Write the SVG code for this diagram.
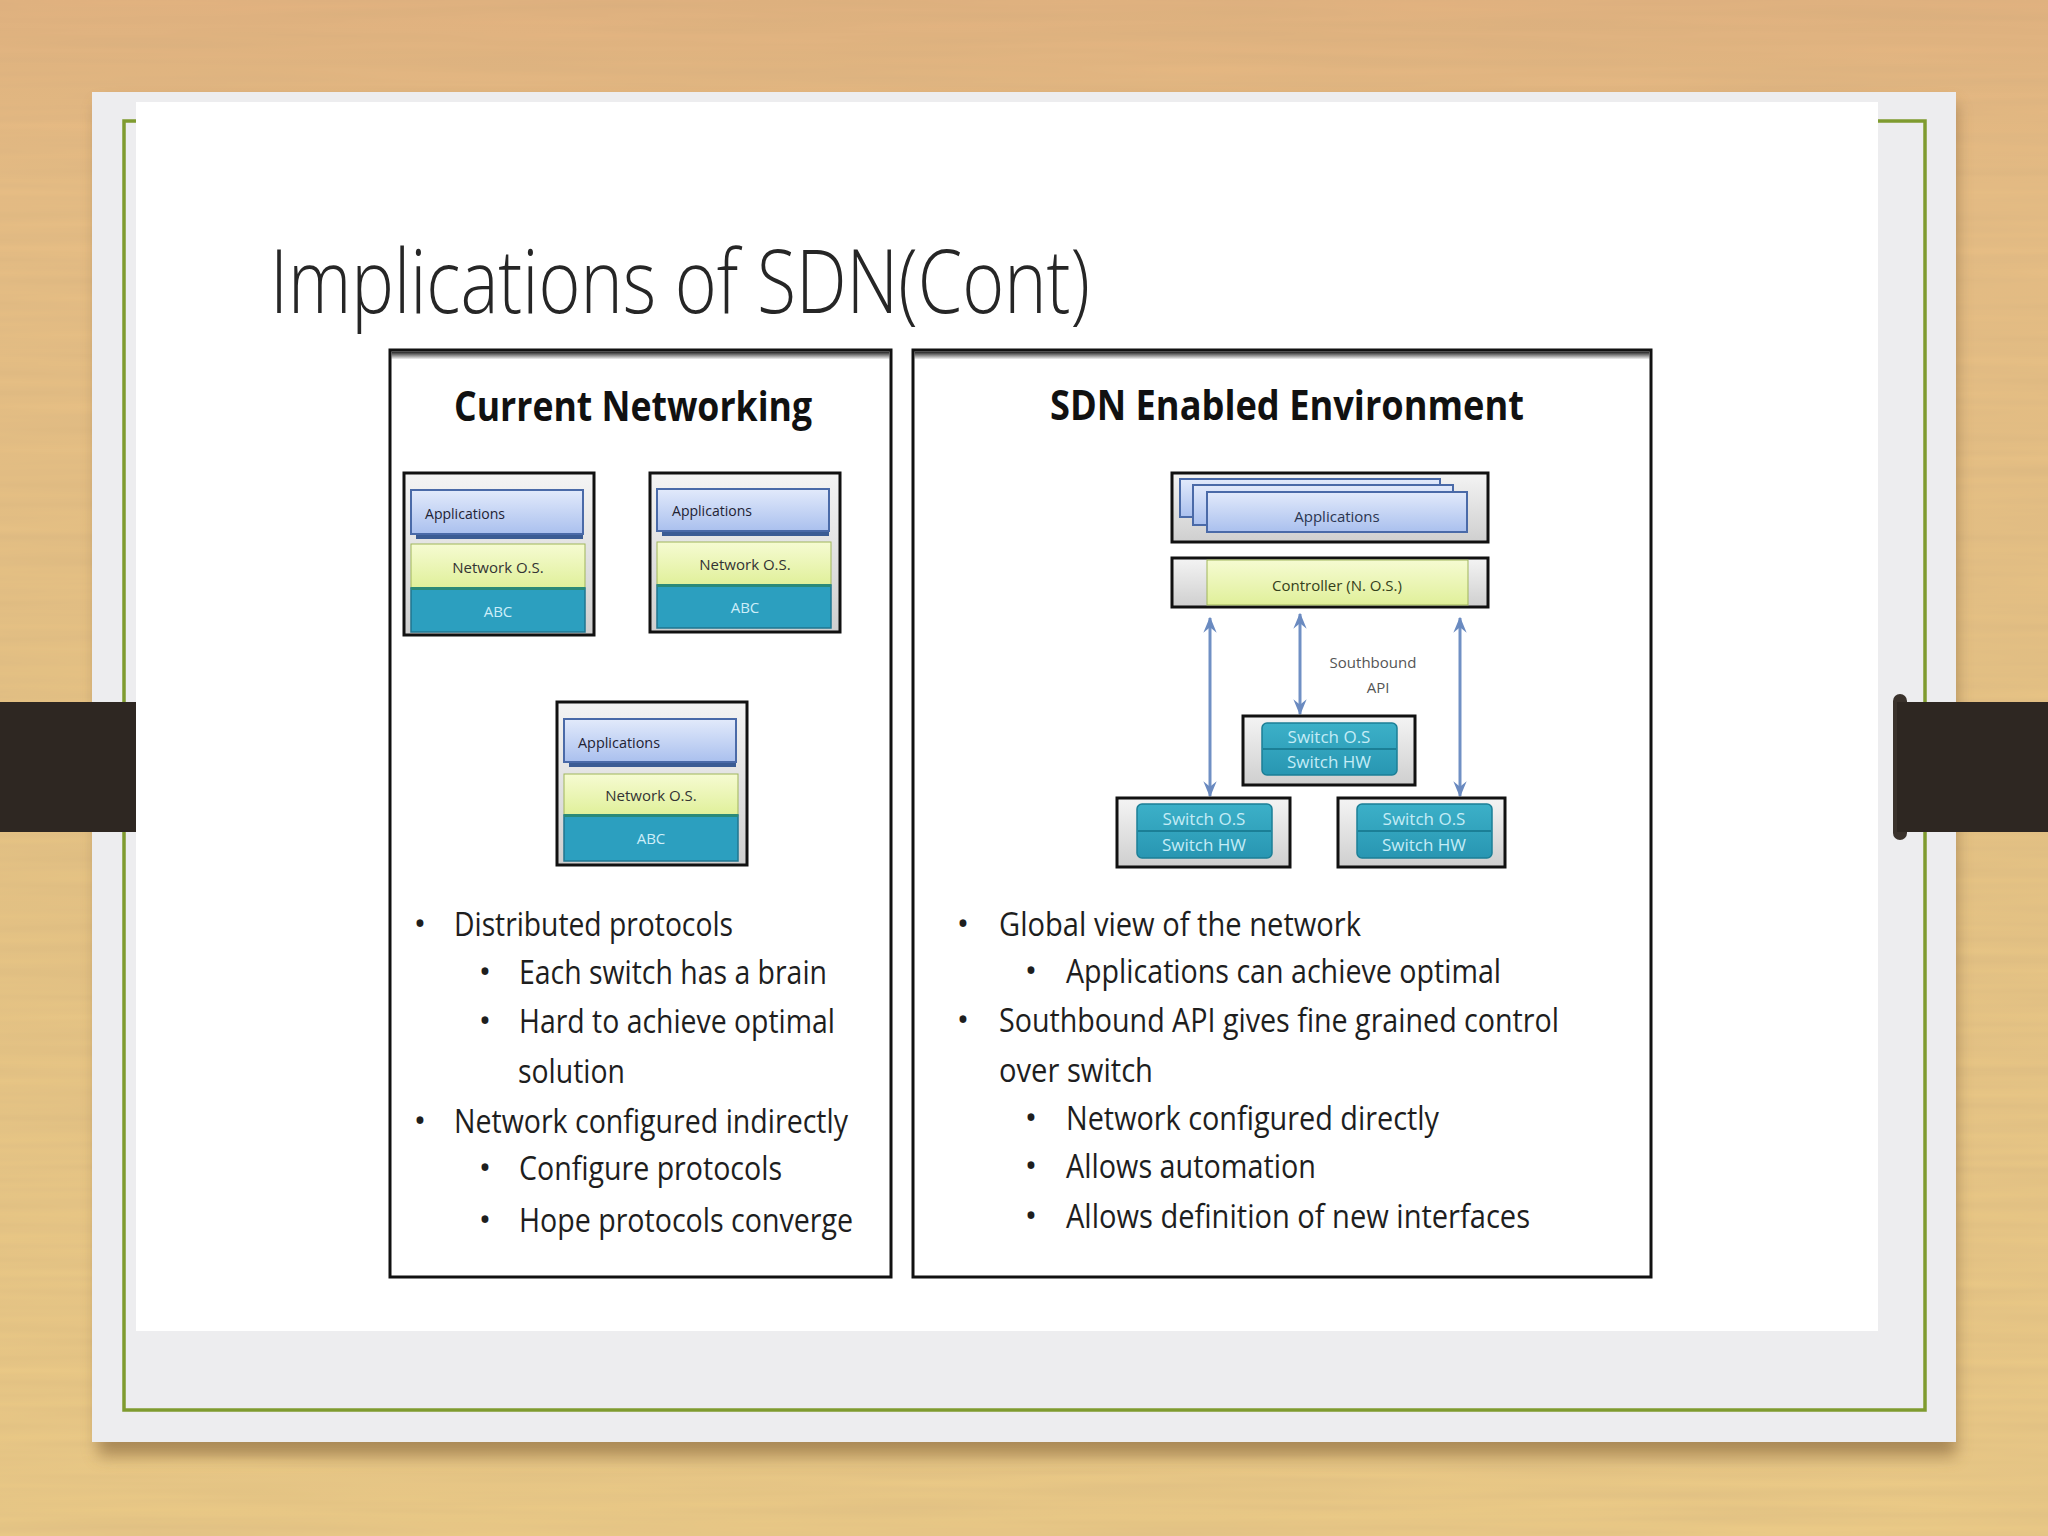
<svg xmlns="http://www.w3.org/2000/svg" width="2048" height="1536" viewBox="0 0 2048 1536">
<defs>
<style>
.body{font-family:"Open Sans","Liberation Sans",sans-serif;fill:#1e1e1e;font-size:33px}
.head{font-family:"Open Sans","Liberation Sans",sans-serif;font-weight:bold;fill:#111;font-size:42px}
.small{font-family:"Open Sans","Liberation Sans",sans-serif;font-size:15px}
.box{stroke:#111;stroke-width:3}
.apps{fill:url(#gApps);stroke:#4a6aa8;stroke-width:2}
.nos{fill:url(#gNos);stroke:#9fb55a;stroke-width:1}
.abc{fill:#2c9fbf;stroke:#1f7690;stroke-width:1.5}
.sw{fill:url(#gSw);stroke:#1b7f96;stroke-width:1.5}
.swt{fill:#c4ecf6;font-family:"Open Sans","Liberation Sans",sans-serif;font-size:17px;text-anchor:middle}
.conn{stroke:#7090c4;stroke-width:3;fill:none;marker-start:url(#ah);marker-end:url(#ah)}
</style>
<linearGradient id="gBg" x1="0" y1="0" x2="0" y2="1">
<stop offset="0" stop-color="#e2b27f"/>
<stop offset="0.12" stop-color="#e7bd84"/>
<stop offset="0.5" stop-color="#e6c384"/>
<stop offset="1" stop-color="#ebca86"/>
</linearGradient>
<linearGradient id="gGray" x1="0" y1="0" x2="0" y2="1">
<stop offset="0" stop-color="#f4f4f4"/>
<stop offset="1" stop-color="#cfcfcf"/>
</linearGradient>
<linearGradient id="gApps" x1="0" y1="0" x2="0" y2="1">
<stop offset="0" stop-color="#e2eafb"/>
<stop offset="1" stop-color="#aac0ee"/>
</linearGradient>
<linearGradient id="gNos" x1="0" y1="0" x2="0" y2="1">
<stop offset="0" stop-color="#f6fbd2"/>
<stop offset="1" stop-color="#e0f09a"/>
</linearGradient>
<linearGradient id="gSw" x1="0" y1="0" x2="0" y2="1">
<stop offset="0" stop-color="#3cb0c8"/>
<stop offset="1" stop-color="#2896b2"/>
</linearGradient>
<linearGradient id="gTop" x1="0" y1="0" x2="0" y2="1">
<stop offset="0" stop-color="#1a1a1a"/>
<stop offset="1" stop-color="#1a1a1a" stop-opacity="0"/>
</linearGradient>
<filter id="blur" x="-5%" y="-5%" width="110%" height="115%"><feGaussianBlur stdDeviation="8"/></filter>
<filter id="grain" x="0" y="0" width="100%" height="100%">
<feTurbulence type="fractalNoise" baseFrequency="0.003 0.09" numOctaves="2" seed="4"/>
<feColorMatrix type="matrix" values="0 0 0 0 0.55  0 0 0 0 0.38  0 0 0 0 0.2  0 0 0 0.35 -0.05"/>
</filter>
<marker id="ah" viewBox="0 0 12 12" refX="11" refY="6" markerWidth="16" markerHeight="16" markerUnits="userSpaceOnUse" orient="auto-start-reverse">
<path d="M0,1 L12,6 L0,11 L4,6 z" fill="#6a8ac0"/>
</marker>
</defs>

<g id="background">
<rect x="0" y="0" width="2048" height="1536" fill="url(#gBg)"/>
<rect x="0" y="0" width="2048" height="1536" filter="url(#grain)"/>
</g>

<g id="card">
<rect x="98" y="104" width="1858" height="1352" fill="#7a5a30" opacity="0.55" filter="url(#blur)"/>
<rect x="92" y="92" width="1864" height="1350" fill="#ededef"/>
<rect x="124" y="121" width="1801" height="1289" fill="none" stroke="#7f9b2f" stroke-width="3.5"/>
<rect x="136" y="102" width="1742" height="1229" fill="#ffffff"/>
</g>

<g id="bands">
<rect x="0" y="702" width="136" height="130" fill="#2e2722"/>
<rect x="1893" y="694" width="14" height="146" rx="7" fill="#3a322c"/>
<rect x="1897" y="702" width="151" height="130" fill="#2e2722"/>
</g>

<g id="title">
<text x="270" y="313" font-family="'Open Sans','Liberation Sans',sans-serif" font-weight="300" font-size="88" fill="#262626" textLength="820" lengthAdjust="spacingAndGlyphs">Implications of SDN(Cont)</text>
</g>

<g id="panel-current">
<rect x="390" y="350" width="501" height="927" fill="#ffffff" class="box"/>
<rect x="391.5" y="351.5" width="498" height="8" fill="url(#gTop)"/>
<text class="head" x="454" y="421" textLength="358" lengthAdjust="spacingAndGlyphs">Current Networking</text>
</g>

<g id="panel-sdn">
<rect x="913" y="350" width="738" height="927" fill="#ffffff" class="box"/>
<rect x="914.5" y="351.5" width="735" height="8" fill="url(#gTop)"/>
<text class="head" x="1050" y="420" textLength="474" lengthAdjust="spacingAndGlyphs">SDN Enabled Environment</text>
</g>

<g id="cn-stack-1">
<rect x="404" y="473" width="190" height="162" fill="url(#gGray)" class="box"/>
<rect x="416" y="533" width="167" height="6" fill="#3b5c94"/>
<rect x="411" y="490" width="172" height="44" class="apps"/>
<rect x="411" y="544" width="174" height="44" class="nos"/>
<rect x="411" y="588" width="174" height="44" class="abc"/>
<rect x="411" y="587" width="174" height="3" fill="#2b8a78"/>
<text class="small" x="425" y="519" fill="#223" font-size="16" textLength="80" lengthAdjust="spacingAndGlyphs">Applications</text>
<text class="small" x="498" y="573" fill="#333" text-anchor="middle" font-size="15">Network O.S.</text>
<text class="small" x="498" y="617" fill="#cdeef9" text-anchor="middle" font-size="15">ABC</text>
</g>

<g id="cn-stack-2">
<rect x="650" y="473" width="190" height="159" fill="url(#gGray)" class="box"/>
<rect x="662" y="530" width="167" height="6" fill="#3b5c94"/>
<rect x="657" y="489" width="172" height="42" class="apps"/>
<rect x="657" y="542" width="174" height="43" class="nos"/>
<rect x="657" y="585" width="174" height="43" class="abc"/>
<rect x="657" y="584" width="174" height="3" fill="#2b8a78"/>
<text class="small" x="672" y="516" fill="#223" font-size="16" textLength="80" lengthAdjust="spacingAndGlyphs">Applications</text>
<text class="small" x="745" y="570" fill="#333" text-anchor="middle" font-size="15">Network O.S.</text>
<text class="small" x="745" y="613" fill="#cdeef9" text-anchor="middle" font-size="15">ABC</text>
</g>

<g id="cn-stack-3">
<rect x="557" y="702" width="190" height="163" fill="url(#gGray)" class="box"/>
<rect x="569" y="761" width="167" height="6" fill="#3b5c94"/>
<rect x="564" y="719" width="172" height="43" class="apps"/>
<rect x="564" y="774" width="174" height="41" class="nos"/>
<rect x="564" y="815" width="174" height="46" class="abc"/>
<rect x="564" y="814" width="174" height="3" fill="#2b8a78"/>
<text class="small" x="578" y="748" fill="#223" font-size="16" textLength="82" lengthAdjust="spacingAndGlyphs">Applications</text>
<text class="small" x="651" y="801" fill="#333" text-anchor="middle" font-size="15">Network O.S.</text>
<text class="small" x="651" y="844" fill="#cdeef9" text-anchor="middle" font-size="15">ABC</text>
</g>

<g id="sdn-applications">
<rect x="1172" y="473" width="316" height="69" fill="url(#gGray)" class="box"/>
<rect x="1180" y="479" width="260" height="38" class="apps"/>
<rect x="1193" y="485" width="260" height="40" class="apps"/>
<rect x="1207" y="492" width="260" height="40" class="apps"/>
<text class="small" x="1337" y="522" fill="#2a3550" text-anchor="middle" font-size="20">Applications</text>
</g>

<g id="sdn-controller">
<rect x="1172" y="558" width="316" height="49" fill="url(#gGray)" class="box"/>
<rect x="1207" y="560" width="261" height="45" class="nos"/>
<text class="small" x="1337" y="591" fill="#34401a" text-anchor="middle" font-size="20">Controller (N. O.S.)</text>
</g>

<g id="connectors">
<line class="conn" x1="1210" y1="618" x2="1210" y2="796"/>
<line class="conn" x1="1300" y1="614" x2="1300" y2="714"/>
<line class="conn" x1="1460" y1="618" x2="1460" y2="796"/>
</g>

<g id="southbound-label">
<text class="small" x="1373" y="668" fill="#555" text-anchor="middle" font-size="19">Southbound</text>
<text class="small" x="1378" y="693" fill="#555" text-anchor="middle" font-size="19">API</text>
</g>

<g id="switch-middle">
<rect x="1243" y="716" width="172" height="69" fill="url(#gGray)" class="box" stroke-width="2.5"/>
<rect x="1262" y="723" width="135" height="52" rx="5" class="sw"/>
<line x1="1263" y1="749" x2="1396" y2="749" stroke="#1b7f96" stroke-width="2"/>
<text class="swt" x="1329" y="743">Switch O.S</text>
<text class="swt" x="1329" y="768">Switch HW</text>
</g>

<g id="switch-left">
<rect x="1117" y="798" width="173" height="69" fill="url(#gGray)" class="box" stroke-width="2.5"/>
<rect x="1137" y="804" width="135" height="54" rx="5" class="sw"/>
<line x1="1138" y1="831" x2="1271" y2="831" stroke="#1b7f96" stroke-width="2"/>
<text class="swt" x="1204" y="825">Switch O.S</text>
<text class="swt" x="1204" y="851">Switch HW</text>
</g>

<g id="switch-right">
<rect x="1338" y="798" width="167" height="69" fill="url(#gGray)" class="box" stroke-width="2.5"/>
<rect x="1357" y="804" width="135" height="54" rx="5" class="sw"/>
<line x1="1358" y1="831" x2="1491" y2="831" stroke="#1b7f96" stroke-width="2"/>
<text class="swt" x="1424" y="825">Switch O.S</text>
<text class="swt" x="1424" y="851">Switch HW</text>
</g>

<g id="bullets-current">
<text class="body" x="420" y="935" text-anchor="middle" font-size="26">•</text>
<text class="body" x="454" y="936" textLength="279" lengthAdjust="spacingAndGlyphs">Distributed protocols</text>
<text class="body" x="485" y="983" text-anchor="middle" font-size="26">•</text>
<text class="body" x="519" y="984" textLength="308" lengthAdjust="spacingAndGlyphs">Each switch has a brain</text>
<text class="body" x="485" y="1032" text-anchor="middle" font-size="26">•</text>
<text class="body" x="519" y="1033" textLength="316" lengthAdjust="spacingAndGlyphs">Hard to achieve optimal</text>
<text class="body" x="518" y="1083" textLength="107" lengthAdjust="spacingAndGlyphs">solution</text>
<text class="body" x="420" y="1132" text-anchor="middle" font-size="26">•</text>
<text class="body" x="454" y="1133" textLength="394" lengthAdjust="spacingAndGlyphs">Network configured indirectly</text>
<text class="body" x="485" y="1179" text-anchor="middle" font-size="26">•</text>
<text class="body" x="519" y="1180" textLength="263" lengthAdjust="spacingAndGlyphs">Configure protocols</text>
<text class="body" x="485" y="1231" text-anchor="middle" font-size="26">•</text>
<text class="body" x="519" y="1232" textLength="334" lengthAdjust="spacingAndGlyphs">Hope protocols converge</text>
</g>

<g id="bullets-sdn">
<text class="body" x="963" y="935" text-anchor="middle" font-size="26">•</text>
<text class="body" x="999" y="936" textLength="362" lengthAdjust="spacingAndGlyphs">Global view of the network</text>
<text class="body" x="1031" y="982" text-anchor="middle" font-size="26">•</text>
<text class="body" x="1066" y="983" textLength="435" lengthAdjust="spacingAndGlyphs">Applications can achieve optimal</text>
<text class="body" x="963" y="1031" text-anchor="middle" font-size="26">•</text>
<text class="body" x="999" y="1032" textLength="560" lengthAdjust="spacingAndGlyphs">Southbound API gives fine grained control</text>
<text class="body" x="999" y="1082" textLength="154" lengthAdjust="spacingAndGlyphs">over switch</text>
<text class="body" x="1031" y="1129" text-anchor="middle" font-size="26">•</text>
<text class="body" x="1066" y="1130" textLength="373" lengthAdjust="spacingAndGlyphs">Network configured directly</text>
<text class="body" x="1031" y="1177" text-anchor="middle" font-size="26">•</text>
<text class="body" x="1066" y="1178" textLength="250" lengthAdjust="spacingAndGlyphs">Allows automation</text>
<text class="body" x="1031" y="1227" text-anchor="middle" font-size="26">•</text>
<text class="body" x="1066" y="1228" textLength="464" lengthAdjust="spacingAndGlyphs">Allows definition of new interfaces</text>
</g>
</svg>
